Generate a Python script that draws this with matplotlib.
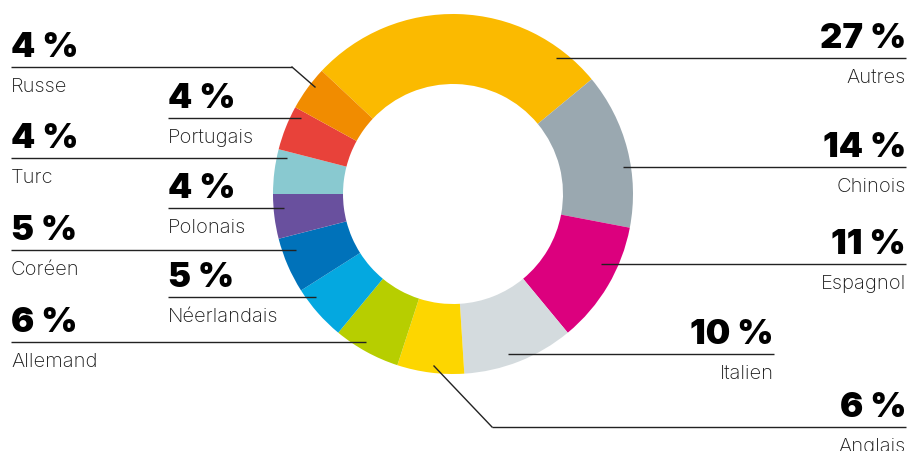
import matplotlib
matplotlib.use("Agg")
import matplotlib.pyplot as plt

# Répartition des langues (%)
langues = ["Autres", "Chinois", "Espagnol", "Italien", "Anglais", "Allemand",
           "Néerlandais", "Coréen", "Polonais", "Turc", "Portugais", "Russe"]
parts = [27, 14, 11, 10, 6, 6, 5, 5, 4, 4, 4, 4]
couleurs = ["#FBBA00", "#9AA8B0", "#DC007E", "#D4DBDE", "#FDD600", "#B7CE00",
            "#04A8E0", "#0072BA", "#69509E", "#89C9D0", "#E8423A", "#F18C00"]

# Mise en page des étiquettes (pixels image, origine en haut à gauche)
W, H = 909, 452
ancres = [(556, 59), (623, 168), (601, 265), (508, 355), (434, 367), (366, 343),
          (316, 298), (296, 251), (284, 209), (287, 159), (301, 119), (315, 88)]
coudes = {"Anglais": (492, 428), "Russe": (292, 68)}
ligne_y = [59, 168, 265, 355, 428, 343, 298, 251, 209, 159, 119, 68]
texte_x = [906, 906, 906, 774, 906, 11, 168, 11, 168, 11, 168, 11]


def py(y):
    return H - y


fig = plt.figure(figsize=(W / 100, H / 100), dpi=100)
ax = fig.add_axes([0, 0, 1, 1])

ax.pie(parts, colors=couleurs, startangle=136.8, counterclock=False,
       center=(453, py(195)), radius=180,
       wedgeprops=dict(width=70, linewidth=0))

ax.set_xlim(0, W)
ax.set_ylim(0, H)
ax.set_aspect("equal")
ax.axis("off")

police_chiffres = ["Inter", "DejaVu Sans"]
police_noms = ["Inter", "DejaVu Sans"]

for nom, val, (axx, axy), ly, tx in zip(langues, parts, ancres, ligne_y, texte_x):
    droite = tx > 453
    if nom in coudes:
        ex, ey = coudes[nom]
        ax.plot([ex, axx], [py(ey), py(axy)], color="#222222", lw=1.0)
        x_fin = ex
    else:
        x_fin = axx
    ax.plot([tx, x_fin], [py(ly), py(ly)], color="#222222", lw=1.0,
            solid_capstyle="butt")
    ha = "right" if droite else "left"
    ax.text(tx, py(ly - 11), f"{val} %", ha=ha, va="baseline", fontsize=25,
            fontweight="black", family=police_chiffres, color="black")
    ax.text(tx, py(ly + 24), nom, ha=ha, va="baseline", fontsize=14.5,
            fontweight="light", family=police_noms, color="#1a1a1a")

fig.savefig("out.png", dpi=100)
